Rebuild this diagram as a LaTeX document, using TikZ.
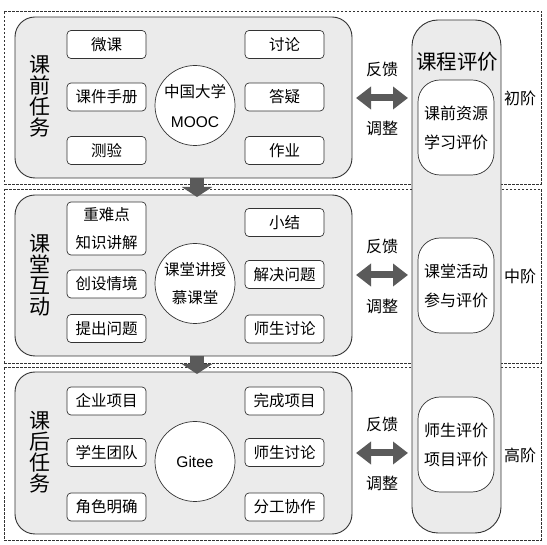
\documentclass[tikz,border=0pt]{standalone}
\usepackage{fontspec}
\setmainfont{Noto Sans CJK SC}
\newfontfamily\latfont{Liberation Sans}
\usetikzlibrary{arrows.meta}
\definecolor{panelgray}{HTML}{EBEBEB}
\definecolor{linegray}{HTML}{333333}
\definecolor{arrowgray}{HTML}{5A5A5A}
\tikzset{
  band/.style={draw=linegray, line width=0.6pt, dash pattern=on 2.5pt off 1.5pt, inner sep=0pt},
  panel/.style={draw=linegray, line width=0.9pt, fill=panelgray, rounded corners=20pt, inner sep=0pt},
  item/.style={draw=linegray, line width=0.7pt, fill=white, rounded corners=4pt, minimum width=79pt, minimum height=28pt, inner sep=0pt, align=center, font=\fontsize{15.5}{28}\selectfont},
  hub/.style={circle, draw=linegray, line width=0.7pt, fill=white, minimum size=80pt, inner sep=0pt, align=center, font=\fontsize{15.5}{30}\selectfont},
  evalbox/.style={draw=linegray, line width=0.7pt, fill=white, rounded corners=22pt, minimum width=76pt, minimum height=95pt, inner sep=0pt, align=center, font=\fontsize{16}{29}\selectfont},
  vlabel/.style={align=center, inner sep=0pt, font=\fontsize{21}{21}\selectfont},
  plain/.style={inner sep=0pt, font=\fontsize{16}{16}\selectfont},
  fb/.style={line width=7pt, draw=arrowgray, {Triangle[width=22pt,length=15pt]}-{Triangle[width=22pt,length=15pt]}},
  down/.style={line width=14pt, draw=arrowgray, -{Triangle[width=30pt,length=10pt]}}
}
\begin{document}
\begin{tikzpicture}[x=1pt,y=-1pt]
\useasboundingbox (0,0) rectangle (547,545);
% dashed bands
\node[band, minimum width=537pt, minimum height=173pt] (b1) at (272.5,97.5) {};
\node[band, minimum width=537pt, minimum height=174pt] (b2) at (272.5,276) {};
\node[band, minimum width=537pt, minimum height=173pt] (b3) at (272.5,453.5) {};
% panels
\node[panel, minimum width=337pt, minimum height=161pt] (p1) at (183.5,97.5) {};
\node[panel, minimum width=337pt, minimum height=161pt] (p2) at (183.5,275.5) {};
\node[panel, minimum width=337pt, minimum height=162pt] (p3) at (183.5,453) {};
% evaluation column
\node[panel, rounded corners=26pt, minimum width=89pt, minimum height=513pt] (col) at (456.5,276.5) {};
\node[inner sep=0pt, font=\fontsize{20.5}{20.5}\selectfont] (title) at (457,62) {课程评价};
\node[evalbox] (e1) at (456,127.5) {课前资源\\学习评价};
\node[evalbox] (e2) at (456,285.5) {课堂活动\\参与评价};
\node[evalbox] (e3) at (456,444.5) {师生评价\\项目评价};
\node[plain] (s1) at (520,98) {初阶};
\node[plain] (s2) at (520,276) {中阶};
\node[plain] (s3) at (520,455) {高阶};
% vertical labels
\node[vlabel] (v1) at (40,96.5) {课\\前\\任\\务};
\node[vlabel] (v2) at (40,275) {课\\堂\\互\\动};
\node[vlabel] (v3) at (40,452) {课\\后\\任\\务};
% band 1
\node[item] (a1) at (106.5,44.5) {微课};
\node[item] (a2) at (106.5,97) {课件手册};
\node[item] (a3) at (106.5,150.5) {测验};
\node[item] (a4) at (284.5,44.5) {讨论};
\node[item] (a5) at (284.5,97) {答疑};
\node[item] (a6) at (284.5,150.5) {作业};
\node[hub] (h1) at (195,105.5) {中国大学\\{\latfont MOOC}};
% band 2
\node[item, minimum height=53pt] (c1) at (106.5,228.5) {重难点\\知识讲解};
\node[item] (c2) at (106.5,284) {创设情境};
\node[item] (c3) at (106.5,328.5) {提出问题};
\node[item] (c4) at (284.5,222.5) {小结};
\node[item] (c5) at (284.5,274.5) {解决问题};
\node[item] (c6) at (284.5,329) {师生讨论};
\node[hub, font=\fontsize{15.5}{28}\selectfont] (h2) at (195,283.5) {课堂讲授\\慕课堂};
% band 3
\node[item] (g1) at (106.5,401) {企业项目};
\node[item] (g2) at (106.5,452.5) {学生团队};
\node[item] (g3) at (106.5,507) {角色明确};
\node[item] (g4) at (284.5,401) {完成项目};
\node[item] (g5) at (284.5,452.5) {师生讨论};
\node[item] (g6) at (284.5,507) {分工协作};
\node[hub, font=\latfont\fontsize{15.5}{15.5}\selectfont] (h3) at (195,461.5) {Gitee};
% down arrows between panels
\coordinate (d1s) at (197,178);
\coordinate (d1e) at (197,197);
\coordinate (d2s) at (197,356);
\coordinate (d2e) at (197,374);
\draw[down] (d1s) -- (d1e);
\draw[down] (d2s) -- (d2e);
% feedback arrows
\coordinate (f1a) at (356,98);  \coordinate (f1b) at (408,98);
\coordinate (f2a) at (356,275); \coordinate (f2b) at (408,275);
\coordinate (f3a) at (356,453); \coordinate (f3b) at (408,453);
\draw[fb] (f1a) -- (f1b);
\draw[fb] (f2a) -- (f2b);
\draw[fb] (f3a) -- (f3b);
\node[plain] (r1) at (382,69) {反馈};
\node[plain] (t1) at (382,128) {调整};
\node[plain] (r2) at (382,246) {反馈};
\node[plain] (t2) at (382,306) {调整};
\node[plain] (r3) at (382,424) {反馈};
\node[plain] (t3) at (382,483) {调整};
\end{tikzpicture}
\end{document}
